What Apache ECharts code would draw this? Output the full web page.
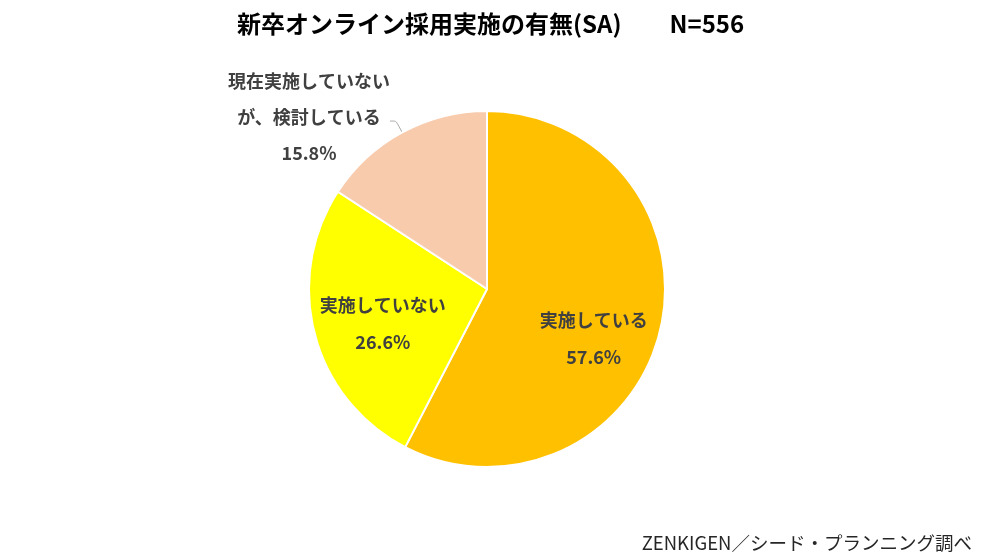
<!DOCTYPE html>
<html>
<head>
<meta charset="utf-8">
<script src="https://cdn.jsdelivr.net/npm/echarts@6/dist/echarts.min.js"></script>
<style>html,body{margin:0;padding:0;background:#fff;}#c{width:1000px;height:560px;}</style>
</head>
<body>
<div id="c"></div>
<script>
var titleText = '新卒オンライン採用実施の有無(SA)　　N=556';
var sourceText = 'ZENKIGEN／シード・プランニング調べ';
var categories = ['実施している', '実施していない', '現在実施していない\nが、検討している'];
var values = [57.6, 26.6, 15.8];
var colors = ['#FFC000', '#FFFF00', '#F8CBAD'];

var FONT = '"Noto Sans CJK JP", "Noto Sans", sans-serif';
var chart = echarts.init(document.getElementById('c'), null, {renderer: 'canvas'});

var mainData = categories.map(function (c, i) {
  var d = {name: c, value: values[i], itemStyle: {color: colors[i]}};
  if (i === 2) {
    d.label = {show: true};
    d.labelLine = {show: true};
  } else {
    d.label = {show: false};
    d.labelLine = {show: false};
  }
  return d;
});
var overlayData = categories.map(function (c, i) {
  return {name: c, value: values[i], label: {show: i !== 2}};
});
var insideShift = [[-7, 22], [9, 5], [0, 0]];

chart.setOption({
  backgroundColor: '#ffffff',
  animation: false,
  title: [{
    text: titleText,
    left: 232,
    top: 7,
    textStyle: {fontFamily: FONT, fontSize: 24, fontWeight: 'bold', color: '#000000'}
  }, {
    text: sourceText,
    right: 23,
    top: 529,
    textStyle: {fontFamily: FONT, fontSize: 18.5, fontWeight: 'normal', color: '#262626'}
  }],
  series: [{
    type: 'pie',
    center: [487, 289],
    radius: [0, 178],
    startAngle: 90,
    clockwise: true,
    silent: true,
    data: mainData,
    itemStyle: {borderColor: '#ffffff', borderWidth: 2},
    label: {
      position: 'outside',
      distanceToLabelLine: 4,
      padding: [0, 0, 7, 0],
      formatter: function (p) {
        var lines = p.name.split('\n');
        lines.push(p.value.toFixed(1) + '%');
        return lines.map(function (l) { return '{a|' + l + '}'; }).join('\n');
      },
      rich: {
        a: {width: 154, align: 'center', fontFamily: FONT, fontSize: 18, fontWeight: 'bold', color: '#404040', lineHeight: 36}
      }
    },
    labelLine: {length: 13, length2: 6, smooth: 0.2, lineStyle: {color: '#A6A6A6', width: 1}}
  }, {
    type: 'pie',
    center: [487, 289],
    radius: [0, 228],
    startAngle: 90,
    clockwise: true,
    silent: true,
    z: 3,
    data: overlayData,
    itemStyle: {color: 'rgba(0,0,0,0)', borderWidth: 0},
    emphasis: {disabled: true},
    labelLine: {show: false},
    labelLayout: function (p) {
      var s = insideShift[p.dataIndex];
      return {dx: s[0], dy: s[1]};
    },
    label: {
      position: 'inside',
      formatter: function (p) { return p.name + '\n' + p.value.toFixed(1) + '%'; },
      fontFamily: FONT, fontSize: 18, fontWeight: 'bold', color: '#404040', lineHeight: 37
    }
  }]
});
</script>
</body>
</html>
